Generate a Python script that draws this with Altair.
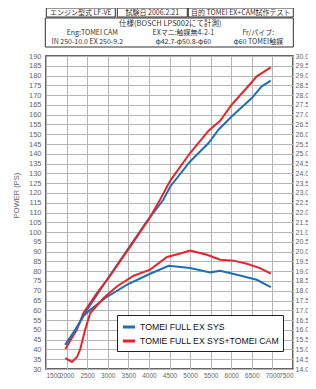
import altair as alt
import pandas as pd

series_names = ["TOMEI FULL EX SYS", "TOMIE FULL EX SYS+TOMEI CAM"]
series_colors = ["#1f6fb6", "#e8232c"]

# Power (PS) readings
blue_power_rpm = [1970, 2210, 2500, 2980, 3950, 4350, 4520, 5000, 5450, 5690, 6010, 6500, 6740, 6960]
blue_power = [42.4, 50.1, 60.3, 75.6, 105.5, 116.5, 123.3, 136.1, 145.5, 152.3, 159.1, 168.5, 174.5, 177.4]
red_power_rpm = [1970, 2250, 2410, 2740, 3020, 3550, 3990, 4270, 4520, 5000, 5450, 5730, 6010, 6460, 6620, 6960]
red_power = [40.2, 50.1, 58.6, 68.9, 76.5, 92.7, 106.3, 116.5, 126.3, 140.4, 151.8, 156.9, 165.1, 175.7, 179.6, 184.2]

# Torque (kgm) readings
blue_torque_rpm = [1970, 2250, 2400, 2575, 2940, 3470, 4030, 4480, 5000, 5490, 5730, 6140, 6620, 6960]
blue_torque = [15.24, 16.1, 16.7, 17.03, 17.63, 18.31, 18.87, 19.28, 19.16, 18.94, 19.02, 18.82, 18.56, 18.19]
red_torque_rpm = [1970, 2130, 2250, 2330, 2450, 2575, 2900, 3220, 3630, 4030, 4440, 4720, 5000, 5410, 5730, 6050, 6380, 6700, 6960]
red_torque = [14.56, 14.36, 14.6, 15.0, 16.0, 16.86, 17.63, 18.22, 18.77, 19.08, 19.73, 19.88, 20.06, 19.84, 19.59, 19.54, 19.38, 19.16, 18.87]

x_ticks = list(range(1500, 7501, 500))
power_ticks = list(range(30, 191, 5))
torque_ticks = [14 + 0.5 * i for i in range(33)]

def frame(rpms, vals, name, kind):
    return pd.DataFrame({"rpm": rpms, "val": vals, "series": name, "kind": kind})

power_df = pd.concat([
    frame(blue_power_rpm, blue_power, series_names[0], "p"),
    frame(red_power_rpm, red_power, series_names[1], "p"),
])
torque_df = pd.concat([
    frame(blue_torque_rpm, blue_torque, series_names[0], "t"),
    frame(red_torque_rpm, red_torque, series_names[1], "t"),
])

label_font = "Liberation Sans"
jp_font = "Noto Sans CJK JP"

xenc = alt.X("rpm:Q", scale=alt.Scale(domain=[1500, 7500], nice=False),
             axis=alt.Axis(values=x_ticks, title="REV (rpm)", grid=True, ticks=False,
                           labelPadding=3, titlePadding=2, format="d", labelOverlap=False,
                           labelFontSize=6.5, labelSeparation=0))
color = alt.Color("series:N", scale=alt.Scale(domain=series_names, range=series_colors),
                  legend=alt.Legend(title=None, orient="none", legendX=71, legendY=259,
                                    symbolType="stroke", symbolStrokeWidth=3, symbolSize=150,
                                    labelFont=label_font, labelFontSize=8.7, labelColor="#111",
                                    strokeColor="#222", fillColor="white", padding=4,
                                    rowPadding=-1, labelOffset=3, labelLimit=200))

power = alt.Chart(power_df).mark_line(strokeWidth=2).encode(
    x=xenc,
    y=alt.Y("val:Q", scale=alt.Scale(domain=[30, 190], nice=False),
            axis=alt.Axis(values=power_ticks, title="POWER (PS)", ticks=False, grid=True,
                          labelPadding=5, labelOverlap=False, titleX=-26, titleY=139)),
    color=color,
    detail="kind:N",
)

torque = alt.Chart(torque_df).mark_line(strokeWidth=2).encode(
    x=xenc,
    y=alt.Y("val:Q", scale=alt.Scale(domain=[14, 30], nice=False),
            axis=alt.Axis(values=torque_ticks, orient="right", title=None, ticks=False,
                          grid=False, format=".1f", labelPadding=2, labelOverlap=False,
                          labelFontSize=7)),
    color=alt.Color("series:N"),
    detail="kind:N",
)

one = pd.DataFrame({"a": [0]})

# header boxes
boxes = pd.DataFrame({
    "x": [0.3, 71.3, 142.3, -0.7],
    "x2": [69.3, 141.3, 247.3, 247.3],
    "y": [-48, -48, -48, -38],
    "y2": [-39, -39, -39, -9],
})
box_layers = []
for _, r in boxes.iterrows():
    box_layers.append(
        alt.Chart(one).mark_rect(fill="white", stroke="#333", strokeWidth=1).encode(
            x=alt.value(r.x), x2=alt.value(r.x2), y=alt.value(r.y), y2=alt.value(r.y2))
    )

texts = [
    ("エンジン型式  LF-VE", 34.8, -43.5, 7),
    ("試験日  2006.2.21", 106.3, -43.5, 7),
    ("目的  TOMEI EX+CAM試作テスト", 194.8, -43.5, 7),
    ("仕様(BOSCH LPS002にて計測)", 124.3, -32, 7.5),
    ("Eng:TOMEI CAM", 46.3, -23, 7),
    ("EXマニ:触媒無4-2-1", 137.3, -23, 7),
    ("Fr/パイプ:", 212.3, -23, 7),
    ("IN 250-10.0 EX 250-9.2", 41.3, -14.5, 7),
    ("φ42.7-φ50.8-φ60", 137.3, -14.5, 7),
    ("φ60 TOMEI触媒", 212.3, -14.5, 7),
]
text_layers = []
for t, x, y, s in texts:
    text_layers.append(
        alt.Chart(one).mark_text(text=t, font=jp_font, fontSize=s, color="#333",
                                 align="center", baseline="middle").encode(
            x=alt.value(x), y=alt.value(y))
    )

chart = alt.layer(*box_layers, *text_layers, power, torque).resolve_scale(
    y="independent"
).properties(
    width=247, height=313, autosize=alt.AutoSizeParams(type="none"),
    padding={"left": 38, "top": 48, "right": 15, "bottom": 12},
).configure_view(
    stroke="#333", strokeWidth=1.5
).configure_axis(
    labelFont=label_font, labelFontSize=7.5, labelColor="#666",
    titleFont=label_font, titleFontSize=7.5, titleColor="#666", titleFontWeight="normal",
    gridColor="#b5b5b5", gridWidth=1, domain=False,
).configure_axisX(
    labelOverlap=False
)

chart.save("out.html", embed_options={"renderer": "svg", "actions": False})
